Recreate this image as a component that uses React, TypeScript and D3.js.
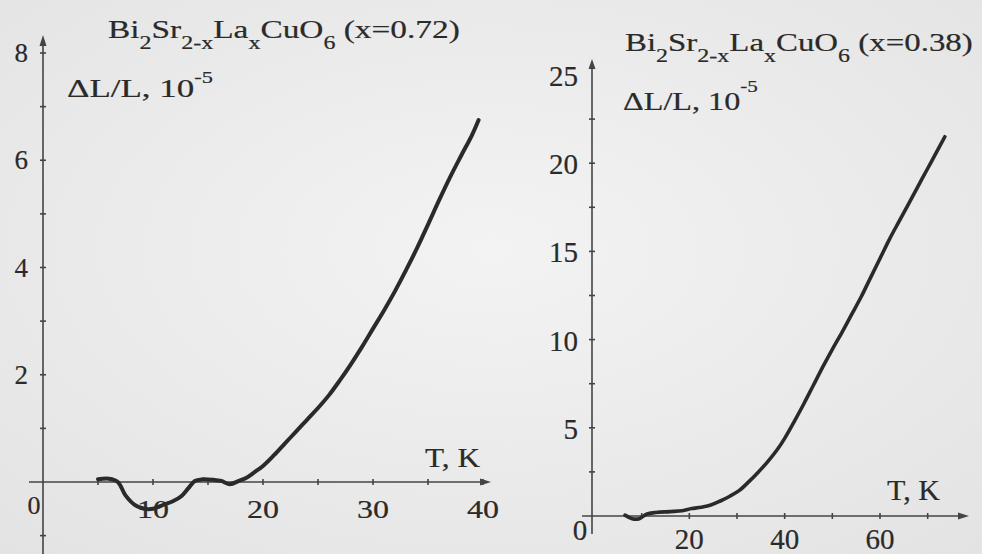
import React, { useRef, useLayoutEffect } from "react";
import * as d3 from "d3";

// Left panel: x = 0.72
const LEFT_T = [5.0, 6.0, 6.8, 7.5, 8.3, 9.2, 10.0, 11.0, 11.8, 12.6, 13.2, 13.8, 14.5, 15.5, 16.2, 17.0, 17.8, 18.5, 19.2, 20.0, 21.0, 22.0, 23.0, 24.0, 25.0, 26.0, 27.0, 28.0, 29.0, 30.0, 31.0, 32.0, 33.0, 34.0, 35.0, 36.0, 37.0, 38.0, 39.0, 39.6];
const LEFT_DL = [0.05, 0.06, 0.0, -0.25, -0.42, -0.5, -0.5, -0.42, -0.36, -0.26, -0.12, 0.02, 0.05, 0.04, 0.02, -0.04, 0.02, 0.08, 0.18, 0.3, 0.5, 0.72, 0.94, 1.16, 1.38, 1.62, 1.9, 2.2, 2.52, 2.86, 3.2, 3.56, 3.95, 4.36, 4.8, 5.25, 5.68, 6.08, 6.47, 6.75];

// Right panel: x = 0.38
const RIGHT_T = [6.5, 8.0, 9.5, 11.0, 13.0, 16.0, 18.5, 20.5, 22.5, 24.5, 26.5, 28.5, 30.5, 32.5, 34.5, 36.5, 38.5, 40.0, 42.0, 44.0, 46.0, 48.0, 50.0, 52.0, 54.0, 56.0, 58.0, 60.0, 62.0, 64.0, 66.0, 68.0, 70.0, 72.0, 73.6];
const RIGHT_DL = [0.05, -0.15, -0.15, 0.1, 0.2, 0.25, 0.3, 0.42, 0.5, 0.62, 0.85, 1.12, 1.45, 1.95, 2.5, 3.1, 3.78, 4.4, 5.35, 6.35, 7.4, 8.45, 9.45, 10.4, 11.4, 12.4, 13.5, 14.6, 15.7, 16.7, 17.7, 18.7, 19.7, 20.7, 21.5];

const LEFT_X_LABELS = [10, 20, 30, 40];
const LEFT_X_MINOR = [5, 10, 15, 20, 25, 30, 35, 40];
const LEFT_Y_LABELS = [2, 4, 6, 8];
const LEFT_Y_MINOR = [-1, 1, 2, 3, 4, 5, 6, 7, 8];

const RIGHT_X_LABELS = [20, 40, 60];
const RIGHT_X_MINOR = [10, 20, 30, 40, 50, 60, 70];
const RIGHT_Y_LABELS = [5, 10, 15, 20, 25];
const RIGHT_Y_MINOR = [2.5, 5, 7.5, 10, 12.5, 15, 17.5, 20, 22.5];

const INK = "#2a2a2a";
const AXIS = "#444444";
const FONT = "Liberation Serif";

function FitText({ x, y, w, size, anchor = "start", children }: any) {
  const ref = useRef<SVGTextElement>(null);
  useLayoutEffect(() => {
    const el = ref.current;
    if (!el) return;
    el.removeAttribute("transform");
    const bb = el.getBBox();
    const s = bb.width > 0 ? w / bb.width : 1;
    el.setAttribute("transform", `translate(${x},0) scale(${s},1) translate(${-x},0)`);
  });
  return (
    <text
      ref={ref}
      x={x}
      y={y}
      fontSize={size}
      textAnchor={anchor}
      fill={INK}
      stroke={INK}
      strokeWidth={0.2}
      style={{ fontFamily: FONT }}
    >
      {children}
    </text>
  );
}

function Formula({ x, y, w, size, sub, label }: any) {
  const d = Math.round(size * 0.42);
  return (
    <FitText x={x} y={y} w={w} size={size}>
      <tspan>Bi</tspan>
      <tspan fontSize={sub} dy={d}>2</tspan>
      <tspan dy={-d}>Sr</tspan>
      <tspan fontSize={sub} dy={d}>2-x</tspan>
      <tspan dy={-d}>La</tspan>
      <tspan fontSize={sub} dy={d}>x</tspan>
      <tspan dy={-d}>CuO</tspan>
      <tspan fontSize={sub} dy={d}>6</tspan>
      <tspan dy={-d}>{" " + label}</tspan>
    </FitText>
  );
}

function YLabel({ x, y, w, size, sup, dy }: any) {
  return (
    <FitText x={x} y={y} w={w} size={size}>
      <tspan>ΔL/L, 10</tspan>
      <tspan fontSize={sup} dy={dy}>-5</tspan>
    </FitText>
  );
}

export default function App() {
  // Left scales
  const lx = d3.scaleLinear().domain([0, 40]).range([43, 483]);
  const ly = d3.scaleLinear().domain([0, 8]).range([482, 53]);
  // Right scales
  const rx = d3.scaleLinear().domain([0, 60]).range([594, 880]);
  const ry = d3.scaleLinear().domain([0, 25]).range([516, 75]);

  const leftLine = d3
    .line<number>()
    .x((_, i) => lx(LEFT_T[i]))
    .y((v) => ly(v))
    .curve(d3.curveCatmullRom.alpha(0.5))(LEFT_DL) as string;
  const rightLine = d3
    .line<number>()
    .x((_, i) => rx(RIGHT_T[i]))
    .y((v) => ry(v))
    .curve(d3.curveCatmullRom.alpha(0.5))(RIGHT_DL) as string;

  const lx0 = lx(0);
  const ly0 = ly(0);
  const rx0 = rx(0) - 2;
  const ry0 = ry(0);

  const txt = { fill: INK, stroke: INK, strokeWidth: 0.2, style: { fontFamily: FONT } };

  return (
    <svg width={982} height={554} style={{ position: "absolute", left: 0, top: 0, fontFamily: FONT }}>
      <defs>
        <radialGradient id="paper" cx="50%" cy="45%" r="75%">
          <stop offset="0%" stopColor="#f3f3f3" />
          <stop offset="100%" stopColor="#e3e3e3" />
        </radialGradient>
      </defs>
      <rect x={0} y={0} width={982} height={554} fill="url(#paper)" />

      {/* ---------- LEFT PANEL ---------- */}
      <g stroke={AXIS} strokeWidth={1.6} fill="none">
        <line x1={lx0} y1={554} x2={lx0} y2={44} />
        <line x1={29} y1={ly0} x2={484} y2={ly0} />
        {LEFT_Y_MINOR.map((v) => (
          <line key={"lym" + v} x1={lx0 - 3} x2={lx0 + 3} y1={ly(v)} y2={ly(v)} />
        ))}
        {LEFT_X_MINOR.map((v) => (
          <line key={"lxm" + v} x1={lx(v)} x2={lx(v)} y1={ly0 - 3} y2={ly0 + 3} />
        ))}
      </g>
      <path d={`M${lx0},35 L${lx0 - 3.5},46 L${lx0 + 3.5},46 Z`} fill={AXIS} />
      <path d={`M491,${ly0} L480,${ly0 - 3.5} L480,${ly0 + 3.5} Z`} fill={AXIS} />

      <path d={leftLine} fill="none" stroke="#2a2a2a" strokeWidth={4} strokeLinejoin="round" strokeLinecap="round" />

      {LEFT_Y_LABELS.map((v) => (
        <text key={"lyl" + v} x={28} y={ly(v) + 9} fontSize={27} textAnchor="end" {...txt}>
          {v}
        </text>
      ))}
      <text x={34} y={514} fontSize={26} textAnchor="middle" {...txt}>0</text>
      {LEFT_X_LABELS.map((v) => (
        <FitText key={"lxl" + v} x={lx(v)} y={518} w={32} size={25} anchor="middle">
          {String(v)}
        </FitText>
      ))}
      <FitText x={425} y={467} w={55} size={28}>T, K</FitText>
      <Formula x={108} y={38} w={352} size={25} sub={18} label="(x=0.72)" />
      <YLabel x={67} y={97} w={146} size={25} sup={16} dy={-14} />

      {/* ---------- RIGHT PANEL ---------- */}
      <g stroke={AXIS} strokeWidth={1.6} fill="none">
        <line x1={rx0} y1={534} x2={rx0} y2={68} />
        <line x1={582} y1={ry0} x2={962} y2={ry0} />
        {RIGHT_Y_MINOR.map((v) => (
          <line key={"rym" + v} x1={rx0 - 3} x2={rx0 + 3} y1={ry(v)} y2={ry(v)} />
        ))}
        {RIGHT_X_MINOR.map((v) => (
          <line key={"rxm" + v} x1={rx(v)} x2={rx(v)} y1={ry0 - 3} y2={ry0 + 3} />
        ))}
      </g>
      <path d={`M${rx0},59 L${rx0 - 3.5},69 L${rx0 + 3.5},69 Z`} fill={AXIS} />
      <path d={`M969,${ry0} L958,${ry0 - 3.5} L958,${ry0 + 3.5} Z`} fill={AXIS} />

      <path d={rightLine} fill="none" stroke="#2a2a2a" strokeWidth={3.6} strokeLinejoin="round" strokeLinecap="round" />

      {RIGHT_Y_LABELS.map((v) => (
        <text key={"ryl" + v} x={578} y={ry(v) + 11} fontSize={29} textAnchor="end" {...txt}>
          {v}
        </text>
      ))}
      <text x={580} y={540} fontSize={29} textAnchor="middle" {...txt}>0</text>
      {RIGHT_X_LABELS.map((v) => (
        <text key={"rxl" + v} x={rx(v)} y={549} fontSize={29} textAnchor="middle" {...txt}>
          {v}
        </text>
      ))}
      <FitText x={887} y={500} w={53} size={29}>T, K</FitText>
      <Formula x={625} y={51} w={348} size={26} sub={19} label="(x=0.38)" />
      <YLabel x={623} y={110} w={135} size={26} sup={17} dy={-18} />
    </svg>
  );
}
